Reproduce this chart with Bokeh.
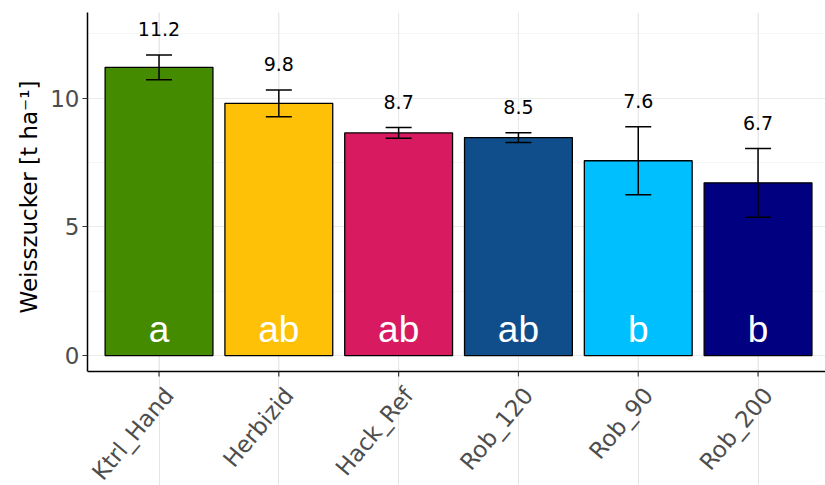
import math
from bokeh.plotting import figure
from bokeh.models import ColumnDataSource, FixedTicker, Whisker, Title
from bokeh.core.properties import value
from bokeh.embed import file_html
from bokeh.resources import INLINE

# Treatments and white sugar yield (t/ha): mean, standard error, significance letters
treatments = ["Ktrl_Hand", "Herbizid", "Hack_Ref", "Rob_120", "Rob_90", "Rob_200"]
yield_mean = [11.2, 9.8, 8.65, 8.47, 7.57, 6.71]
yield_se = [0.48, 0.52, 0.21, 0.19, 1.32, 1.34]
mean_labels = ["11.2", "9.8", "8.7", "8.5", "7.6", "6.7"]
letters = ["a", "ab", "ab", "ab", "b", "b"]
bar_colors = ["#458B00", "#FFC107", "#D81B60", "#104E8B", "#00BFFF", "#000080"]

x_pos = [i + 1 for i in range(len(treatments))]
upper = [m + s for m, s in zip(yield_mean, yield_se)]
lower = [m - s for m, s in zip(yield_mean, yield_se)]

# panel limits; the frame runs on below the x axis so the slanted names fit inside it
X_START, X_END = 0.403, 6.563
Y_AXIS, Y_END = -0.62, 13.33
Y_START = -5.05
TICK_LEN = 0.19

src = ColumnDataSource(dict(
    x=x_pos, mean=yield_mean, upper=upper, lower=lower,
    label_y=[u + 1 for u in upper], label=mean_labels,
    letter_y=[1.0] * len(treatments), letter=letters, color=bar_colors,
    axis_y=[Y_AXIS] * len(treatments), tick_end=[Y_AXIS - TICK_LEN] * len(treatments),
    top_y=[Y_END] * len(treatments), name=treatments,
))

p = figure(width=825, height=485, output_backend="svg", toolbar_location=None,
           x_axis_location=None,
           x_range=(X_START, X_END), y_range=(Y_START, Y_END),
           min_border_left=87, min_border_right=0, min_border_top=12, min_border_bottom=0)
p.outline_line_color = None
p.background_fill_color = "white"
p.border_fill_color = "white"

# horizontal grid
grid_col = "#EBEBEB"
p.ygrid.grid_line_color = grid_col
p.ygrid.grid_line_width = 1.2
p.ygrid.minor_grid_line_color = "#F3F3F3"
p.ygrid.minor_grid_line_width = 0.8

# vertical grid lines at each treatment, above the x axis only
p.segment(x0="x", y0="axis_y", x1="x", y1="top_y", source=src,
          line_color=grid_col, line_width=1.2)

# bars
p.vbar(x="x", top="mean", bottom=0, width=0.9, source=src,
       fill_color="color", line_color="black", line_width=1.3)

# error bars, drawn above the bars
wh = Whisker(base="x", upper="upper", lower="lower", source=src,
             line_color="black", line_width=1.5, level="overlay")
wh.upper_head.size = 26
wh.lower_head.size = 26
wh.upper_head.line_width = 1.5
wh.lower_head.line_width = 1.5
p.add_layout(wh)

# mean value labels
p.text(x="x", y="label_y", text="label", source=src, text_align="center",
       text_baseline="middle", text_font=value("DejaVu Sans"),
       text_font_size="19px", text_color="black")

# significance letters
p.text(x="x", y="letter_y", text="letter", source=src, text_align="center",
       text_baseline="middle", text_font=value("Liberation Sans"),
       text_font_size="37px", text_color="white")

# x axis: line, ticks and slanted treatment names
p.segment(x0=[X_START], y0=[Y_AXIS], x1=[X_END], y1=[Y_AXIS],
          line_color="black", line_width=1.5)
p.segment(x0="x", y0="axis_y", x1="x", y1="tick_end", source=src,
          line_color="#333333", line_width=1.2)
p.text(x="x", y="axis_y", text="name", source=src,
       angle=math.radians(50), text_align="right", text_baseline="top",
       x_offset=0, y_offset=11, text_font=value("DejaVu Sans"),
       text_font_size="23px", text_color="#4D4D4D")

# y axis
ax = p.yaxis[0]
ax.bounds = (Y_AXIS, Y_END)
ax.axis_line_color = "black"
ax.axis_line_width = 1.5
ax.major_tick_line_color = "#333333"
ax.major_tick_line_width = 1.2
ax.major_tick_out = 5
ax.major_tick_in = 0
ax.minor_tick_line_color = None
ax.major_label_text_color = "#4D4D4D"
ax.major_label_text_font = "DejaVu Sans"
ax.major_label_text_font_size = "23px"
ax.major_label_standoff = 3
ax.ticker = FixedTicker(ticks=[0, 5, 10], minor_ticks=[2.5, 7.5, 12.5])

# y axis title, centred on the part of the frame above the x axis
y_title = Title(text="Weisszucker [t ha\u207b\u00b9]", align="left", offset=172,
                text_font="DejaVu Sans", text_font_size="23px",
                text_font_style="normal", text_color="black", standoff=12)
p.add_layout(y_title, "left")

open("out.html", "w").write(file_html(p, INLINE))
